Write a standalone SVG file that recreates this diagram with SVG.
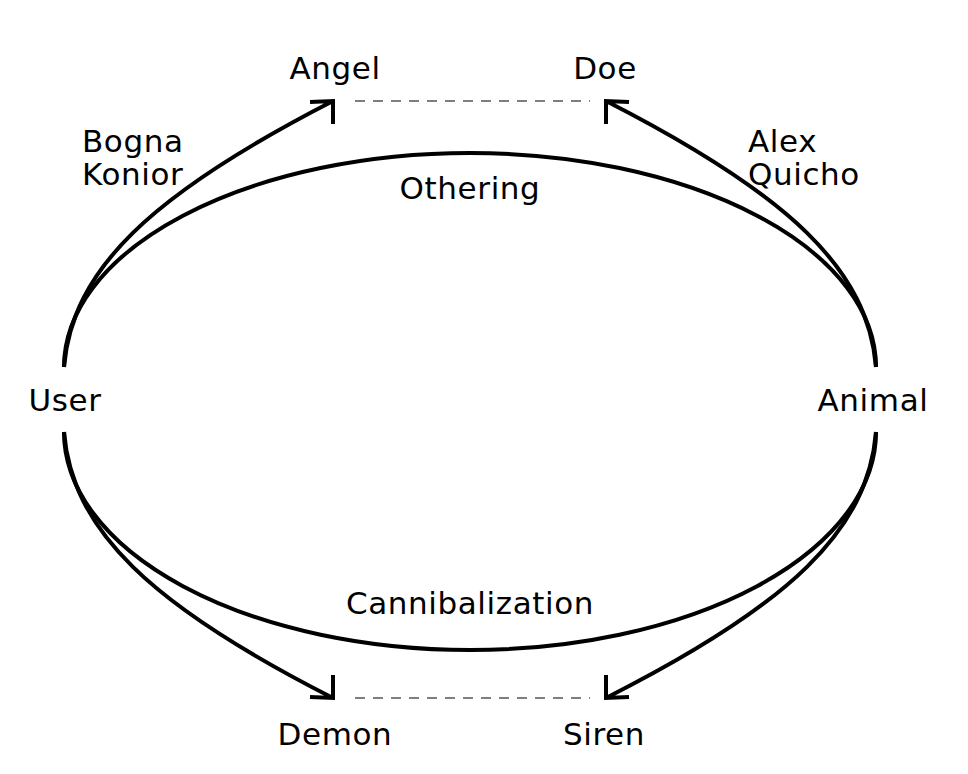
<svg xmlns="http://www.w3.org/2000/svg" width="968" height="774" viewBox="0 0 968 774">
<style>
text{font-family:"DejaVu Sans","Liberation Sans",sans-serif;font-size:31px;letter-spacing:0.6px;fill:#000}
.c{text-anchor:middle}
.l{fill:none;stroke:#000;stroke-width:4;stroke-linecap:butt;stroke-linejoin:miter}
.d{fill:none;stroke:#555;stroke-width:1.5;stroke-dasharray:10 8}
</style>
<rect width="968" height="774" fill="#fff"/>
<g id="connectors">
<path class="l" d="M64,367 A406,214 0 0 1 876,367"/>
<path class="l" d="M64,432 A406,218 0 0 0 876,432"/>
<path class="l" d="M64,367 C72,270 150,195 333,101 M310,102 L333,101 L333,124"/>
<path class="l" d="M876,367 C868,270 790,195 606,101 M629,102 L606,101 L606,124"/>
<path class="l" d="M64,432 C72,530 150,605 333,698 M310,697 L333,698 L333,675"/>
<path class="l" d="M876,432 C868,530 790,605 606,698 M629,697 L606,698 L606,675"/>
<path class="d" d="M355,101 H590"/>
<path class="d" d="M355,698 H590"/>
</g>
<g id="angel"><text class="c" x="335" y="79">Angel</text></g>
<g id="doe"><text class="c" x="605" y="79">Doe</text></g>
<g id="user"><text class="c" x="65" y="411">User</text></g>
<g id="animal"><text class="c" x="873" y="411">Animal</text></g>
<g id="demon"><text class="c" x="335" y="745">Demon</text></g>
<g id="siren"><text class="c" x="604" y="745">Siren</text></g>
<g id="othering"><text class="c" x="470" y="199">Othering</text></g>
<g id="cannibalization"><text class="c" x="470" y="614">Cannibalization</text></g>
<g id="bogna"><text x="82" y="152">Bogna</text><text x="82" y="185">Konior</text></g>
<g id="alex"><text x="748" y="152">Alex</text><text x="748" y="185">Quicho</text></g>
</svg>
